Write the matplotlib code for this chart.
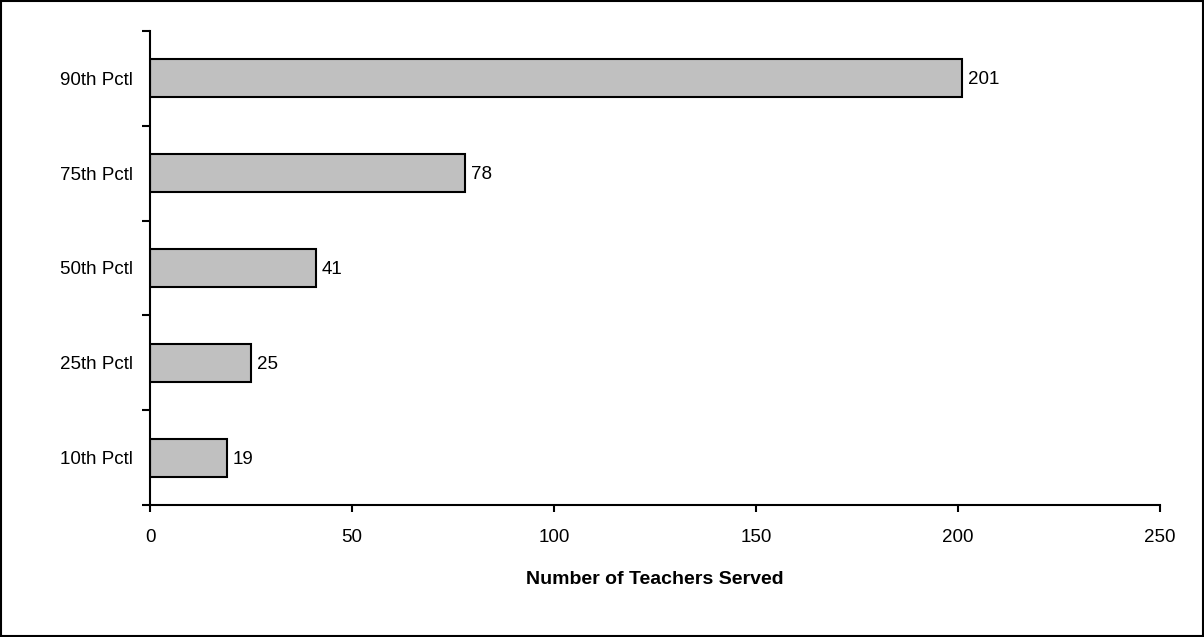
import matplotlib
matplotlib.use("Agg")
import matplotlib.pyplot as plt
import numpy as np

plt.rcParams['font.family'] = ['Liberation Sans', 'DejaVu Sans']

categories = ['10th Pctl', '25th Pctl', '50th Pctl', '75th Pctl', '90th Pctl']
teachers = [19, 25, 41, 78, 201]

fig = plt.figure(figsize=(12.04, 6.37), dpi=100)
ax = fig.add_axes([150 / 1204, 1 - 505 / 637, 1010 / 1204, 474 / 637])

ypos = np.arange(len(categories))
ax.barh(ypos, teachers, height=0.4, color='#c0c0c0', edgecolor='black', linewidth=1.5)

for y, v in zip(ypos, teachers):
    ax.text(v + 1.5, y - 0.015, str(v), va='center', ha='left', fontsize=13.5)

ax.set_xlim(0, 250)
ax.set_ylim(-0.5, 4.5)
ax.set_xticks(np.arange(0, 251, 50))
ax.set_yticks(np.arange(-0.5, 4.6, 1))
ax.set_yticklabels([])
ax.set_yticks(ypos, minor=True)
ax.set_yticklabels(categories, minor=True, fontsize=13.5)
ax.tick_params(axis='y', which='minor', length=0, pad=12)
ax.tick_params(axis='y', which='major', length=6, width=1.5, direction='out')
ax.tick_params(axis='x', length=5, width=1.5, direction='out', labelsize=13.5, pad=12)

for s in ['top', 'right']:
    ax.spines[s].set_visible(False)
for s in ['left', 'bottom']:
    ax.spines[s].set_linewidth(1.5)

ax.set_xlabel('Number of Teachers Served', fontsize=14, fontweight='bold', labelpad=18)

# border around the whole chart
fig.patches.append(plt.Rectangle((0.001, 0.002), 0.998, 0.996, transform=fig.transFigure,
                                 fill=False, edgecolor='black', linewidth=1.5))

fig.savefig('out.png', dpi=100)
